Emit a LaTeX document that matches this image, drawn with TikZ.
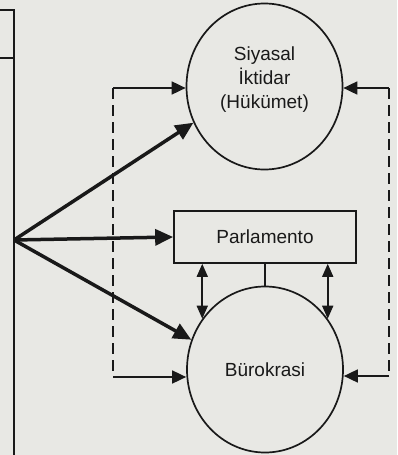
\documentclass[tikz,border=0pt]{standalone}
\usepackage{fontspec}
\setmainfont{Liberation Sans}
\usetikzlibrary{arrows.meta}
\usetikzlibrary{shapes.geometric}
\definecolor{paper}{RGB}{232,232,228}
\definecolor{ink}{RGB}{25,25,25}
\tikzset{
  circ/.style= {draw=ink, ellipse, line width=1.7pt, minimum width=156pt, minimum height=166pt, inner sep=0, align=center, text=ink, font=\fontsize{19}{24}\selectfont},
  box/.style= {draw=ink, line width=1.7pt, minimum width=182pt, minimum height=52pt, text=ink, font=\fontsize{19}{24}\selectfont},
  edge/.style= {draw=ink, line width=1.7pt},
  link/.style= {edge, -{Triangle[length=14pt,width=13pt]}},
  both/.style= {edge, {Triangle[length=13pt,width=11pt]}-{Triangle[length=13pt,width=11pt]}},
  flow/.style= {draw=ink, line width=3.5pt, -{Triangle[length=18pt,width=16pt]}},
  fb/.style= {edge, dash pattern=on 11pt off 6pt},
}

\begin{document}
\begin{tikzpicture}[x=1pt, y=-1pt]
  \fill [paper] (0,0) rectangle (397,455);
  \useasboundingbox (0,0) rectangle (397,455);
  \node [circ, label={[yshift=7pt, align=center, text=ink, font=\fontsize{19}{24}\selectfont]center:Siyasal\\İktidar\\(Hükümet)}] (siyasal) at (264.5,86.5) {} ;
  \node [box] (parl) at (265,237) {Parlamento} ;
  \node [circ] (burokrasi) at (265,369.5) {Bürokrasi} ;
  % the cut-off box at the left
  \draw [edge] (0,10) -| (14,455) ;
  \draw [edge] (0,58) -- (14,58) ;
  \coordinate (src) at (14,240) ;
  \coordinate (lt) at (113,88) ;
  \coordinate (lb) at (113,377) ;
  \coordinate (rt) at (389,88) ;
  \coordinate (rb) at (389,376) ;

  \draw [flow] (src) -- (siyasal.207) ;
  \draw [flow] (src) -- (parl.west) ;
  \draw [flow] (src) -- (burokrasi.158) ;

  \draw [edge] (parl) -- (burokrasi) ;
  \draw [both] (burokrasi.141 |- parl.south) -- (burokrasi.141) ;
  \draw [both] (burokrasi.39 |- parl.south) -- (burokrasi.39) ;

  % feedback
  \draw [fb] (lt) -- (lb) ;
  \draw [link] (lt) -- (lt -| siyasal.west) ;
  \draw [link] (lb) -- (lb -| burokrasi.west) ;
  \draw [fb] (rt) -- (rb) ;
  \draw [link] (rt) -- (rt -| siyasal.east) ;
  \draw [link] (rb) -- (rb -| burokrasi.east) ;
\end{tikzpicture}
\end{document}
